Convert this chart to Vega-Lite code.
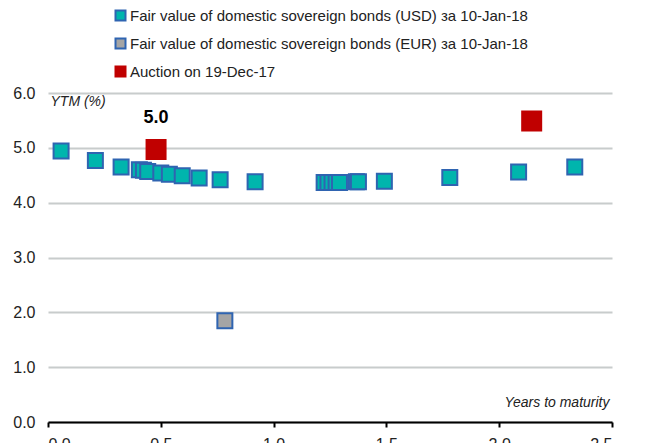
{
  "$schema": "https://vega.github.io/schema/vega-lite/v6.json",
  "autosize": "none",
  "width": 564,
  "height": 329,
  "padding": {"left": 48, "top": 93, "right": 38, "bottom": 21},
  "background": "white",
  "config": {
    "view": {"stroke": null},
    "font": "Liberation Sans, Arial, sans-serif"
  },
  "data": {
    "values": [
      {"series": "Fair value of domestic sovereign bonds (USD) за 10-Jan-18", "years": 0.058, "ytm": 4.94},
      {"series": "Fair value of domestic sovereign bonds (USD) за 10-Jan-18", "years": 0.21, "ytm": 4.77},
      {"series": "Fair value of domestic sovereign bonds (USD) за 10-Jan-18", "years": 0.324, "ytm": 4.65},
      {"series": "Fair value of domestic sovereign bonds (USD) за 10-Jan-18", "years": 0.405, "ytm": 4.6},
      {"series": "Fair value of domestic sovereign bonds (USD) за 10-Jan-18", "years": 0.423, "ytm": 4.59},
      {"series": "Fair value of domestic sovereign bonds (USD) за 10-Jan-18", "years": 0.442, "ytm": 4.57},
      {"series": "Fair value of domestic sovereign bonds (USD) за 10-Jan-18", "years": 0.5, "ytm": 4.54},
      {"series": "Fair value of domestic sovereign bonds (USD) за 10-Jan-18", "years": 0.538, "ytm": 4.52},
      {"series": "Fair value of domestic sovereign bonds (USD) за 10-Jan-18", "years": 0.595, "ytm": 4.49},
      {"series": "Fair value of domestic sovereign bonds (USD) за 10-Jan-18", "years": 0.67, "ytm": 4.45},
      {"series": "Fair value of domestic sovereign bonds (USD) за 10-Jan-18", "years": 0.763, "ytm": 4.42},
      {"series": "Fair value of domestic sovereign bonds (USD) за 10-Jan-18", "years": 0.918, "ytm": 4.38},
      {"series": "Fair value of domestic sovereign bonds (USD) за 10-Jan-18", "years": 1.224, "ytm": 4.37},
      {"series": "Fair value of domestic sovereign bonds (USD) за 10-Jan-18", "years": 1.241, "ytm": 4.37},
      {"series": "Fair value of domestic sovereign bonds (USD) за 10-Jan-18", "years": 1.259, "ytm": 4.37},
      {"series": "Fair value of domestic sovereign bonds (USD) за 10-Jan-18", "years": 1.277, "ytm": 4.37},
      {"series": "Fair value of domestic sovereign bonds (USD) за 10-Jan-18", "years": 1.292, "ytm": 4.37},
      {"series": "Fair value of domestic sovereign bonds (USD) за 10-Jan-18", "years": 1.367, "ytm": 4.38},
      {"series": "Fair value of domestic sovereign bonds (USD) за 10-Jan-18", "years": 1.376, "ytm": 4.38},
      {"series": "Fair value of domestic sovereign bonds (USD) за 10-Jan-18", "years": 1.491, "ytm": 4.39},
      {"series": "Fair value of domestic sovereign bonds (USD) за 10-Jan-18", "years": 1.781, "ytm": 4.46},
      {"series": "Fair value of domestic sovereign bonds (USD) за 10-Jan-18", "years": 2.086, "ytm": 4.56},
      {"series": "Fair value of domestic sovereign bonds (USD) за 10-Jan-18", "years": 2.335, "ytm": 4.65},
      {"series": "Fair value of domestic sovereign bonds (EUR) за 10-Jan-18", "years": 0.784, "ytm": 1.845},
      {"series": "Auction on 19-Dec-17", "years": 0.479, "ytm": 4.97, "label": "5.0"},
      {"series": "Auction on 19-Dec-17", "years": 2.144, "ytm": 5.49}
    ]
  },
  "layer": [
    {
      "mark": {"type": "point", "shape": "square", "filled": true, "opacity": 1, "strokeWidth": 2},
      "encoding": {
        "x": {
          "field": "years", "type": "quantitative",
          "scale": {"domain": [0, 2.5], "nice": false, "zero": true},
          "axis": {
            "values": [0, 0.5, 1, 1.5, 2, 2.5], "format": ".1f",
            "grid": false, "domainColor": "#000000", "domainWidth": 2,
            "tickColor": "#000000", "tickWidth": 2, "tickSize": 5,
            "labelFontSize": 16, "labelColor": "#222222", "labelPadding": 9,
            "title": "Years to maturity", "titleFontStyle": "italic", "titleFontWeight": "normal",
            "titleFontSize": 14, "titleColor": "#222222", "titleAlign": "right",
            "titleAnchor": null, "titleX": 561, "titleY": -16, "titleBaseline": "alphabetic"
          }
        },
        "y": {
          "field": "ytm", "type": "quantitative",
          "scale": {"domain": [0, 6], "nice": false},
          "axis": {
            "values": [0, 1, 2, 3, 4, 5, 6], "format": ".1f",
            "domain": false, "ticks": false,
            "grid": true, "gridColor": "#C8CCCC", "gridWidth": 2,
            "labelFontSize": 16, "labelColor": "#222222", "labelPadding": 13,
            "title": "YTM (%)", "titleFontStyle": "italic", "titleFontWeight": "normal",
            "titleFontSize": 14, "titleColor": "#222222", "titleAngle": 0,
            "titleAlign": "left", "titleAnchor": null, "titleX": 2, "titleY": 12,
            "titleBaseline": "alphabetic"
          }
        },
        "fill": {
          "field": "series", "type": "nominal",
          "scale": {
            "domain": ["Fair value of domestic sovereign bonds (USD) за 10-Jan-18", "Fair value of domestic sovereign bonds (EUR) за 10-Jan-18", "Auction on 19-Dec-17"],
            "range": ["#00B5AD", "#A5A5A5", "#C00000"]
          },
          "legend": {
            "orient": "none", "legendX": 65, "legendY": -85,
            "title": null, "symbolType": "square", "symbolSize": 100,
            "symbolStrokeWidth": 2, "labelFontSize": 15, "labelColor": "#222222",
            "labelOffset": 2, "rowPadding": 9, "labelLimit": 600
          }
        },
        "stroke": {
          "field": "series", "type": "nominal",
          "scale": {
            "domain": ["Fair value of domestic sovereign bonds (USD) за 10-Jan-18", "Fair value of domestic sovereign bonds (EUR) за 10-Jan-18", "Auction on 19-Dec-17"],
            "range": ["#2F64B1", "#2F64B1", "#C00000"]
          },
          "legend": {
            "orient": "none", "legendX": 65, "legendY": -85,
            "title": null, "symbolType": "square", "symbolSize": 100,
            "symbolStrokeWidth": 2, "labelFontSize": 15, "labelColor": "#222222",
            "labelOffset": 2, "rowPadding": 9, "labelLimit": 600
          }
        },
        "size": {
          "condition": {"test": "datum.series === 'Auction on 19-Dec-17'", "value": 361},
          "value": 225
        }
      }
    },
    {
      "transform": [{"filter": "isValid(datum.label)"}],
      "mark": {"type": "text", "fontWeight": "bold", "fontSize": 18, "dy": -31, "baseline": "middle", "color": "#000000"},
      "encoding": {
        "x": {"field": "years", "type": "quantitative"},
        "y": {"field": "ytm", "type": "quantitative"},
        "text": {"field": "label"}
      }
    }
  ]
}
